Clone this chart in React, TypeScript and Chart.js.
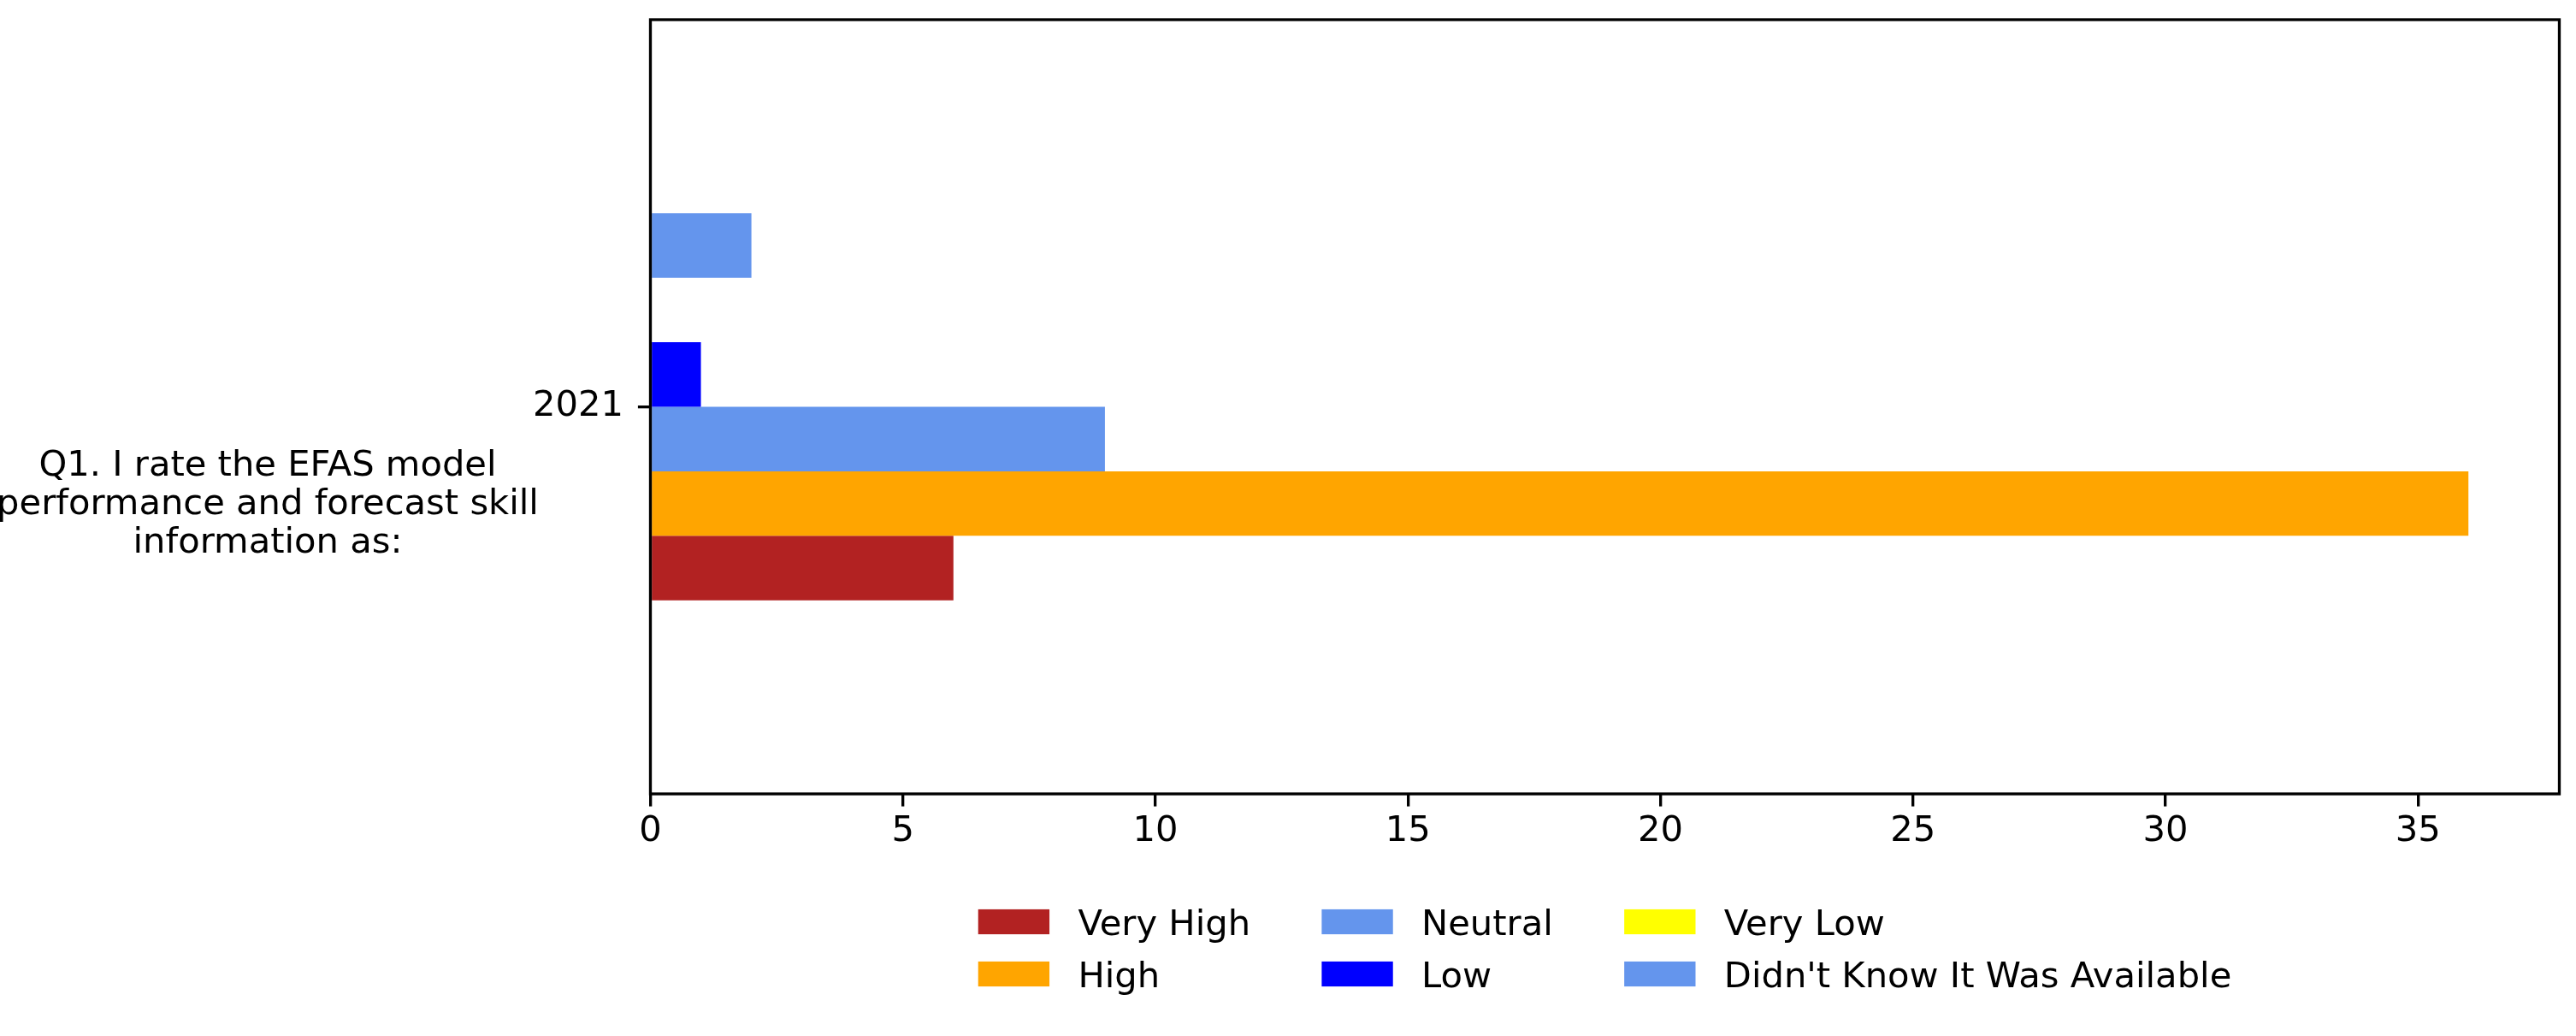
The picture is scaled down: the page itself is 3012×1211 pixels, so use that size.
import React, { useEffect, useRef } from "react";
import { Chart, registerables } from "chart.js";

Chart.register(...registerables);

// ---- data ----
const categories = ["2021"];
const seriesLabels = [
  "Very High",
  "High",
  "Neutral",
  "Low",
  "Very Low",
  "Didn't Know It Was Available",
];
const veryHigh = [6];
const high = [36];
const neutral = [9];
const low = [1];
const veryLow = [0];
const didntKnow = [2];
const seriesColors = ["#B22222", "#FFA500", "#6495ED", "#0000FF", "#FFFF00", "#6495ED"];
const xTicks = [0, 5, 10, 15, 20, 25, 30, 35];
const xMax = 37.8;
const yLabelLines = [
  "Q1. I rate the EFAS model",
  "performance and forecast skill",
  "information as:",
];

const W = 3012;
const H = 1211;
const FS = 41.67;
const FONT = "DejaVu Sans";
const LW = 3.33;
const TICK = 14.6;

const seriesValues = [veryHigh, high, neutral, low, veryLow, didntKnow];

const framePlugin = {
  id: "frame",
  afterDraw(chart: any) {
    const { ctx, chartArea } = chart;
    ctx.save();
    ctx.strokeStyle = "#000";
    ctx.lineWidth = LW;
    ctx.lineJoin = "miter";
    ctx.strokeRect(chartArea.left, chartArea.top, chartArea.right - chartArea.left, chartArea.bottom - chartArea.top);
    ctx.restore();
  },
};

const yLabelPlugin = {
  id: "ylabel",
  afterDraw(chart: any) {
    const { ctx, chartArea } = chart;
    const cx = chartArea.left - 447.5;
    const cy = (chartArea.top + chartArea.bottom) / 2;
    ctx.save();
    ctx.font = `${FS}px "${FONT}"`;
    ctx.fillStyle = "#000";
    ctx.textAlign = "center";
    ctx.textBaseline = "alphabetic";
    yLabelLines.forEach((line, i) => {
      ctx.fillText(line, cx, cy + 80.5 + i * 45);
    });
    ctx.restore();
  },
};

const legendPlugin = {
  id: "gridLegend",
  afterDraw(chart: any) {
    const { ctx, chartArea } = chart;
    ctx.save();
    ctx.font = `${FS}px "${FONT}"`;
    const nRow = 2;
    const nCol = 3;
    const handleW = 2 * FS;
    const handleH = 0.7 * FS;
    const textPad = 0.8 * FS;
    const colSpace = 2 * FS;
    const cols: { label: string; color: string }[][] = [];
    for (let c = 0; c < nCol; c++) {
      const col: { label: string; color: string }[] = [];
      for (let r = 0; r < nRow; r++) {
        const i = c * nRow + r;
        if (i < seriesLabels.length) col.push({ label: seriesLabels[i], color: seriesColors[i] });
      }
      cols.push(col);
    }
    const colWidths = cols.map(
      (col) => handleW + textPad + Math.max(...col.map((it) => ctx.measureText(it.label).width))
    );
    const total = colWidths.reduce((a, b) => a + b, 0) + colSpace * (nCol - 1);
    const cx = (chartArea.left + chartArea.right) / 2;
    let x = cx - total / 2;
    const rowY = [chartArea.bottom + 149.5, chartArea.bottom + 210.5];
    cols.forEach((col, c) => {
      col.forEach((it, r) => {
        const y = rowY[r];
        ctx.fillStyle = it.color;
        ctx.fillRect(x, y - handleH / 2, handleW, handleH);
        ctx.fillStyle = "#000";
        ctx.textAlign = "left";
        ctx.textBaseline = "alphabetic";
        ctx.fillText(it.label, x + handleW + textPad, y + 0.365 * FS);
      });
      x += colWidths[c] + colSpace;
    });
    ctx.restore();
  },
};

export default function App() {
  const ref = useRef<HTMLCanvasElement | null>(null);

  useEffect(() => {
    if (!ref.current) return;
    // datasets ordered top-to-bottom on screen (reverse of legend order)
    const order = [5, 4, 3, 2, 1, 0];
    const datasets = order.map((i) => ({
      label: seriesLabels[i],
      data: seriesValues[i],
      backgroundColor: seriesColors[i],
      borderWidth: 0,
      categoryPercentage: 0.5,
      barPercentage: 1.0,
    }));
    const xAxisH = 100;
    const chart = new Chart(ref.current, {
      type: "bar",
      data: { labels: categories, datasets },
      options: {
        indexAxis: "y",
        animation: false,
        responsive: false,
        devicePixelRatio: 1,
        layout: {
          padding: { left: 0, top: 23, right: W - 2992.5, bottom: H - 928 - xAxisH },
        },
        plugins: {
          legend: { display: false },
          tooltip: { enabled: false },
          title: { display: false },
        },
        scales: {
          x: {
            type: "linear",
            min: 0,
            max: xMax,
            afterBuildTicks: (scale: any) => {
              scale.ticks = xTicks.map((v) => ({ value: v }));
            },
            afterFit: (scale: any) => {
              scale.height = xAxisH;
              scale.paddingLeft = 0;
              scale.paddingRight = 0;
            },
            border: { display: false },
            grid: {
              display: true,
              drawOnChartArea: false,
              drawTicks: true,
              tickLength: TICK,
              tickColor: "#000",
              tickWidth: LW,
              color: "#000",
              lineWidth: LW,
            },
            ticks: {
              color: "#000",
              font: { family: FONT, size: FS },
              padding: 5,
              maxRotation: 0,
              autoSkip: false,
            },
          },
          y: {
            type: "category",
            offset: true,
            afterFit: (scale: any) => {
              scale.width = 760.5;
              scale.paddingTop = 0;
              scale.paddingBottom = 0;
            },
            border: { display: false },
            grid: {
              display: true,
              offset: false,
              drawOnChartArea: false,
              drawTicks: true,
              tickLength: TICK,
              tickColor: "#000",
              tickWidth: LW,
              color: "#000",
              lineWidth: LW,
            },
            ticks: {
              color: "#000",
              font: { family: FONT, size: FS },
              padding: 17,
            },
          },
        },
      },
      plugins: [framePlugin, yLabelPlugin, legendPlugin],
    } as any);
    return () => chart.destroy();
  }, []);

  return (
    <div style={{ position: "fixed", left: 0, top: 0, width: W, height: H, background: "#fff" }}>
      <canvas ref={ref} width={W} height={H} style={{ width: W, height: H, display: "block" }} />
    </div>
  );
}
